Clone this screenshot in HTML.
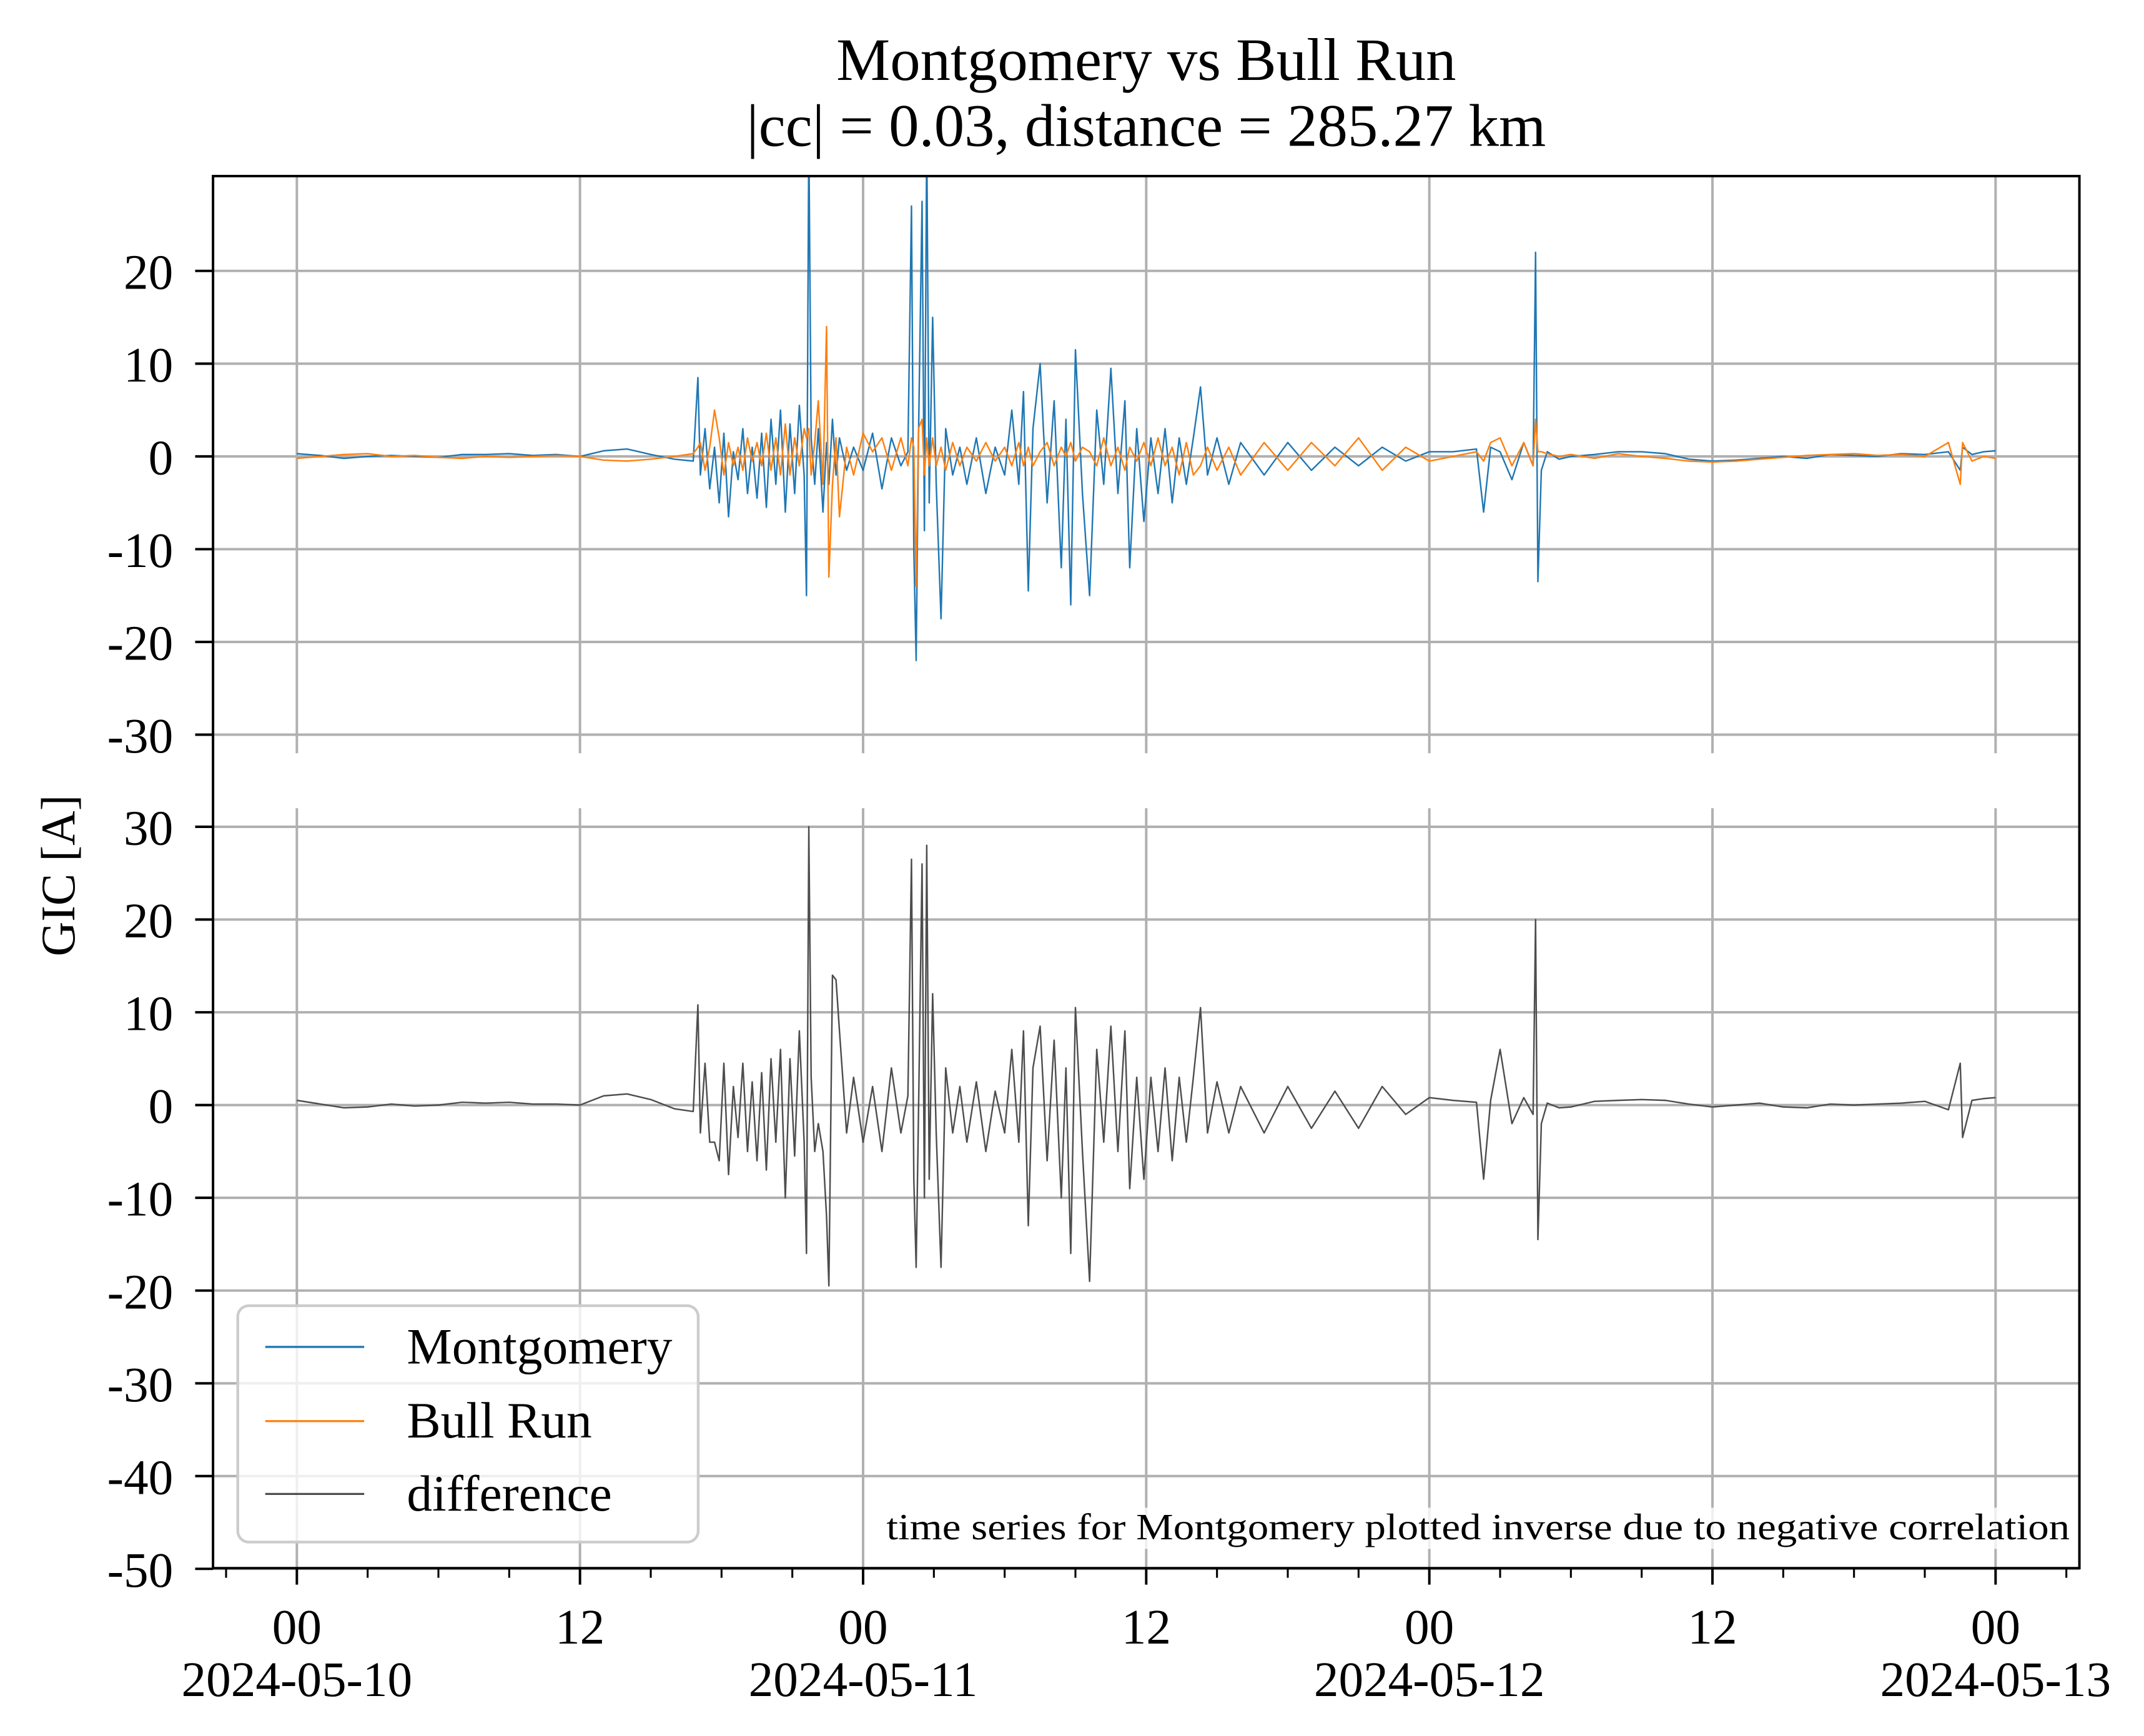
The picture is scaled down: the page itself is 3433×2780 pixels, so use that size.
<!DOCTYPE html>
<html><head><meta charset="utf-8"><style>
html,body{margin:0;padding:0;background:#fff}
svg{display:block}
text{font-family:"Liberation Serif","Times New Roman",serif;fill:#000}
</style></head><body>
<svg id="chart" width="3433" height="2780" viewBox="0 0 1560 1263" xmlns="http://www.w3.org/2000/svg">
<rect width="1560" height="1263" fill="#fff"/>
<text x="834" y="58" font-size="44" text-anchor="middle">Montgomery vs Bull Run</text>
<text x="834" y="106" font-size="44" text-anchor="middle">|cc| = 0.03, distance = 285.27 km</text>
<g id="grid"></g>
<defs>
<clipPath id="clipTop"><rect x="155" y="128" width="1358" height="420"/></clipPath>
<clipPath id="clipBot"><rect x="155" y="588" width="1358" height="553"/></clipPath>
</defs>
<g id="series"></g>
<g id="axes"></g>
<text transform="translate(54,637) rotate(-90)" font-size="35" text-anchor="middle">GIC [A]</text>
<rect x="640" y="1097" width="870" height="30" fill="#fff" fill-opacity="0.8"/>
<text x="1506" y="1120" font-size="27" text-anchor="end" textLength="861" lengthAdjust="spacingAndGlyphs">time series for Montgomery plotted inverse due to negative correlation</text>
<g>
<rect x="173" y="950" width="335" height="172" rx="8" fill="#fff" fill-opacity="0.8" stroke="#cccccc" stroke-width="2"/>
<line x1="193" y1="980" x2="265" y2="980" stroke="#1f77b4" stroke-width="1.5"/>
<text x="296" y="992" font-size="37">Montgomery</text>
<line x1="193" y1="1034" x2="265" y2="1034" stroke="#ff7f0e" stroke-width="1.5"/>
<text x="296" y="1046" font-size="37">Bull Run</text>
<line x1="193" y1="1087" x2="265" y2="1087" stroke="#4d4d4d" stroke-width="1.5"/>
<text x="296" y="1099" font-size="37">difference</text>
</g>
</svg>
<script>
const times=[0,1,2,3,4,5,6,7,8,9,10,11,12,13,14,15,16,16.8,17.0,17.1,17.3,17.5,17.7,17.9,18.1,18.3,18.5,18.7,18.9,19.1,19.3,19.5,19.7,19.9,20.1,20.3,20.5,20.7,20.9,21.1,21.3,21.5,21.6,21.7,21.8,21.95,22.1,22.3,22.45,22.55,22.7,22.85,23.0,23.3,23.6,24.0,24.4,24.8,25.2,25.6,25.9,26.05,26.15,26.25,26.35,26.5,26.6,26.7,26.8,26.95,27.1,27.3,27.5,27.8,28.1,28.4,28.8,29.2,29.6,30.0,30.3,30.6,30.8,31.0,31.2,31.5,31.8,32.1,32.4,32.6,32.8,33.0,33.3,33.6,33.9,34.2,34.5,34.8,35.1,35.3,35.6,35.9,36.2,36.5,36.8,37.1,37.4,37.7,38.0,38.3,38.6,39.0,39.5,40,41,42,43,44,45,46,47,48,49,50,50.3,50.6,51,51.5,52,52.4,52.5,52.6,52.75,53,53.5,54,55,56,57,58,59,60,61,62,63,64,65,66,67,68,69,70,70.5,70.6,71,71.5,72];
const montgomery=[0.3,0.1,-0.2,0.0,0.1,0.0,-0.1,0.2,0.2,0.3,0.1,0.2,0.0,0.6,0.8,0.2,-0.3,-0.5,8.5,-2.0,3.0,-3.5,1.0,-5.0,2.5,-6.5,0.5,-2.5,3.0,-4.0,1.0,-4.5,2.5,-5.5,4.0,-3.0,5.0,-6.0,3.5,-4.0,5.5,-2.0,-15.0,35,2.0,-3.0,3.0,-6.0,1.5,-3.0,4.0,-2.0,2.0,-1.5,1.0,-1.5,2.5,-3.5,2.0,-1.0,0.5,27,-10,-22,2.0,27.5,-8,35,-5,15,-3,-17.5,3,-2,1,-3,2,-4,1,-2.0,5,-3,7,-14.5,3,10,-5,6,-12,4,-16,11.5,-4,-15,5,-3,9.5,-4,6,-12,3,-7,2,-4,3,-5,2,-3,2,7.5,-2,2,-3,1.5,-2,1.5,-1.5,1,-1,1,-0.5,0.5,0.5,0.8,-6.0,1.0,0.5,-2.5,1.5,-1,22,-13.5,-1.5,0.5,-0.3,0.0,0.2,0.5,0.5,0.3,-0.3,-0.5,-0.4,-0.2,0.0,-0.2,0.2,0.1,0.0,0.3,0.2,0.5,-1.5,1.0,0.2,0.5,0.6];
const bullRun=[-0.2,0.0,0.2,0.3,0.0,0.1,-0.1,-0.2,0.0,-0.1,0.0,0.1,0.0,-0.4,-0.5,-0.3,0.0,0.3,1.0,1.5,-1.5,1.0,5.0,2.0,-2.0,1.5,-1.0,1.0,-1.5,2.0,-0.5,1.5,-1.0,2.5,-1.5,2.0,-2.0,3.5,-2.0,2.0,-1.0,3.0,2.0,3.0,-2.0,1.5,6.0,-3.0,14.0,-13.0,-3.0,2.0,-6.5,1.0,-2.0,2.5,0.5,2.0,-1.5,2.0,-1.0,2.0,1.0,-14,3.0,4.0,-2.0,2.0,-1.0,2.0,-1.0,1.0,-1.5,1.5,-1.0,1.0,-0.5,1.5,-0.5,1.0,-1.0,1.5,-1.0,1.0,-1.0,0.5,1.5,-1.0,1.0,0.0,1.5,-0.5,1.0,0.5,-1.0,2.0,-1.0,1.0,-1.5,1.0,-0.5,1.5,-1.0,2.0,-1.0,1.0,-2.0,1.5,-2.0,-1.0,1.0,-1.5,1.0,-2.0,1.5,-1.5,1.5,-1.0,2.0,-1.5,1.0,-0.5,0.0,0.5,-0.5,1.5,2.0,-1.0,1.5,-1,4.0,0.5,0.5,0.3,0.0,0.2,-0.2,0.3,0.0,-0.2,-0.5,-0.6,-0.5,-0.3,-0.1,0.1,0.2,0.3,0.1,0.2,0.0,1.5,-3.0,1.5,-0.5,0.0,-0.2];
const difference=[0.5,0.1,-0.3,-0.2,0.1,-0.1,0.0,0.3,0.2,0.3,0.1,0.1,0.0,1.0,1.2,0.6,-0.4,-0.7,10.8,-3.0,4.5,-4.0,-4.0,-6.0,4.5,-7.5,2.0,-3.5,4.5,-5.0,2.5,-6.0,3.5,-7.0,5.0,-4.0,6.0,-10.0,5.0,-5.5,8.0,-4.0,-16.0,30,3.0,-5.0,-2.0,-5.0,-12.0,-19.5,14.0,13.5,8.0,-3.0,3.0,-4.0,2.0,-5.0,4.0,-3.0,1.0,26.5,-8.0,-17.5,-1.0,26,-10,28,-8,12,-3,-17.5,4,-3,2,-4,2.5,-5,1.5,-3,6,-4,8,-13,4,8.5,-6,7,-10,4,-16,10.5,-5,-19,6,-4,8.5,-5,8,-9,3,-8,3,-5,4,-6,3,-4,3,10.5,-3,2.5,-3,2,-3,2,-2.5,1.5,-2.5,2,-1,0.8,0.5,0.3,-8,0.5,6,-2,0.8,-1,20,-14.5,-2,0.2,-0.3,-0.2,0.4,0.5,0.6,0.5,0.1,-0.2,0.0,0.2,-0.2,-0.3,0.1,0.0,0.1,0.2,0.4,-0.5,4.5,-3.5,0.5,0.7,0.8];
const yTicksTop=[20,10,0,-10,-20,-30];
const yTicksBot=[30,20,10,0,-10,-20,-30,-40,-50];
const xMajor=[0,12,24,36,48,60,72];
const xMajorLabels=["00","12","00","12","00","12","00"];
const xDateLabels=["2024-05-10","","2024-05-11","","2024-05-12","","2024-05-13"];
const xMinor=[-3,3,6,9,15,18,21,27,30,33,39,42,45,51,54,57,63,66,69,75];

const NS="http://www.w3.org/2000/svg";
const L=155,R=1513,T=128,B=1141;
const x=h=>216+h*(1452-216)/72;
const yTop=v=>332-v*(332-197)/20;
const yBot=v=>804-v*(804-669)/20;
function mk(tag,attrs,parent){const e=document.createElementNS(NS,tag);for(const k in attrs)e.setAttribute(k,attrs[k]);parent.appendChild(e);return e;}
const grid=document.getElementById('grid'),axes=document.getElementById('axes'),series=document.getElementById('series');
const gc="#b0b0b0",gw=1.8;
yTicksTop.forEach(v=>{const l=mk('line',{x1:L,x2:R,y1:yTop(v),y2:yTop(v),stroke:gc,'stroke-width':gw},grid);

});
yTicksBot.forEach(v=>{const l=mk('line',{x1:L,x2:R,y1:yBot(v),y2:yBot(v),stroke:gc,'stroke-width':gw},grid);

});
xMajor.forEach(h=>{const a=mk('line',{x1:x(h),x2:x(h),y1:T,y2:548,stroke:gc,'stroke-width':gw},grid);


const b=mk('line',{x1:x(h),x2:x(h),y1:588,y2:B,stroke:gc,'stroke-width':gw},grid);

});
function path(vals,yf,color,clip,name){let d='';times.forEach((t,i)=>{d+=(i?'L':'M')+x(t).toFixed(1)+','+yf(vals[i]).toFixed(1);});
const p=mk('path',{d:d,fill:'none',stroke:color,'stroke-width':1.1,'stroke-linejoin':'round','clip-path':'url(#'+clip+')'},series);

}
path(montgomery,yTop,'#1f77b4','clipTop','montgomery-line');
path(bullRun,yTop,'#ff7f0e','clipTop','bull-run-line');
path(difference,yBot,'#4d4d4d','clipBot','difference-line');
const fr=mk('rect',{x:L,y:T,width:R-L,height:B-T,fill:'none',stroke:'#000','stroke-width':1.8},axes);


function ylab(v,y,name){mk('line',{x1:L-13,x2:L,y1:y,y2:y,stroke:'#000','stroke-width':1.8},axes);
const t=mk('text',{x:L-29,y:y+13,'font-size':36,'text-anchor':'end'},axes);t.textContent=String(v);

}
yTicksTop.forEach(v=>ylab(v,yTop(v),'y-tick-top'));
yTicksBot.forEach(v=>ylab(v,yBot(v),'y-tick-bottom'));
xMajor.forEach((h,i)=>{mk('line',{x1:x(h),x2:x(h),y1:B,y2:B+12,stroke:'#000','stroke-width':1.8},axes);
const t=mk('text',{x:x(h),y:1196,'font-size':36,'text-anchor':'middle'},axes);t.textContent=xMajorLabels[i];


if(xDateLabels[i]){const d=mk('text',{x:x(h),y:1234,'font-size':36,'text-anchor':'middle'},axes);d.textContent=xDateLabels[i];

}});
xMinor.forEach(h=>{const m=mk('line',{x1:x(h),x2:x(h),y1:B,y2:B+7,stroke:'#000','stroke-width':1.4},axes);

});
</script>
</body></html>
